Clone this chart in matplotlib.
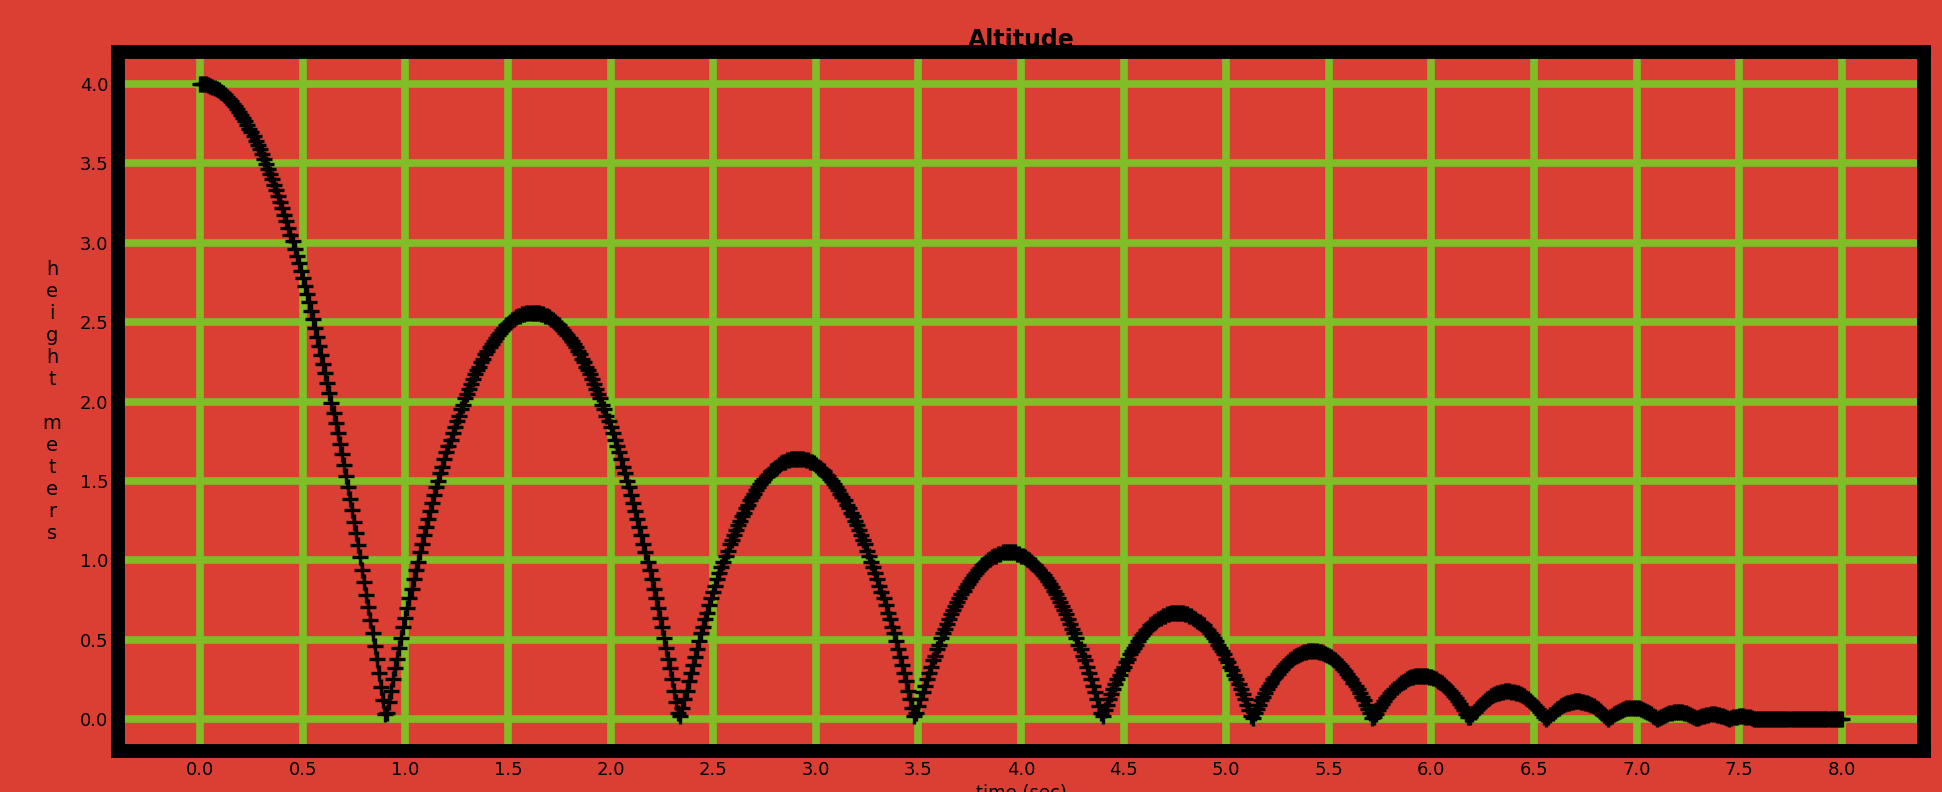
import numpy as np
import matplotlib
matplotlib.use("Agg")
import matplotlib.pyplot as plt
from matplotlib.ticker import MultipleLocator

SAMPLE_STEP = 0.01  # seconds between recorded samples

# Ball height in metres, one list per flight (between two impacts)
drop = [
    4.000, 4.000, 3.998, 3.996, 3.992, 3.988, 3.982, 3.976, 3.969, 3.960,
    3.951, 3.941, 3.929, 3.917, 3.904, 3.890, 3.875, 3.858, 3.841, 3.823,
    3.804, 3.784, 3.763, 3.741, 3.718, 3.694, 3.669, 3.643, 3.616, 3.588,
    3.559, 3.529, 3.498, 3.466, 3.434, 3.400, 3.365, 3.329, 3.292, 3.255,
    3.216, 3.176, 3.136, 3.094, 3.051, 3.008, 2.963, 2.918, 2.871, 2.824,
    2.775, 2.726, 2.675, 2.624, 2.571, 2.518, 2.463, 2.408, 2.352, 2.294,
    2.236, 2.177, 2.116, 2.055, 1.993, 1.930, 1.866, 1.800, 1.734, 1.667,
    1.599, 1.530, 1.460, 1.389, 1.317, 1.244, 1.170, 1.095, 1.019, 0.942,
    0.864, 0.785, 0.705, 0.624, 0.543, 0.460, 0.376, 0.291, 0.205, 0.119,
    0.031,
]
bounce_1 = [
    0.04, 0.11, 0.18, 0.25, 0.32, 0.38, 0.45, 0.51, 0.58, 0.64,
    0.70, 0.76, 0.82, 0.88, 0.94, 0.99, 1.05, 1.10, 1.16, 1.21,
    1.26, 1.31, 1.36, 1.41, 1.46, 1.50, 1.55, 1.59, 1.64, 1.68,
    1.72, 1.76, 1.80, 1.84, 1.88, 1.91, 1.95, 1.98, 2.02, 2.05,
    2.08, 2.11, 2.14, 2.17, 2.20, 2.22, 2.25, 2.27, 2.30, 2.32,
    2.34, 2.36, 2.38, 2.40, 2.42, 2.43, 2.45, 2.46, 2.48, 2.49,
    2.50, 2.51, 2.52, 2.53, 2.54, 2.54, 2.55, 2.55, 2.56, 2.56,
    2.56, 2.56,
    2.56, 2.56, 2.56, 2.55, 2.55, 2.54, 2.54, 2.53, 2.52, 2.51, 2.50,
    2.49, 2.48, 2.46, 2.45, 2.43, 2.42, 2.40, 2.38, 2.36, 2.34,
    2.32, 2.30, 2.27, 2.25, 2.22, 2.20, 2.17, 2.14, 2.11, 2.08,
    2.05, 2.02, 1.98, 1.95, 1.91, 1.88, 1.84, 1.80, 1.76, 1.72,
    1.68, 1.64, 1.59, 1.55, 1.50, 1.46, 1.41, 1.36, 1.31, 1.26,
    1.21, 1.16, 1.10, 1.05, 0.99, 0.94, 0.88, 0.82, 0.76, 0.70,
    0.64, 0.58, 0.51, 0.45, 0.38, 0.32, 0.25, 0.18, 0.11, 0.04,
]
bounce_2 = [
    0.02, 0.07, 0.13, 0.18, 0.24, 0.29, 0.34,
    0.39, 0.44, 0.49, 0.54, 0.58, 0.63, 0.67, 0.72, 0.76, 0.80,
    0.84, 0.88, 0.92, 0.96, 0.99, 1.03, 1.06, 1.10, 1.13, 1.16,
    1.19, 1.22, 1.25, 1.28, 1.30, 1.33, 1.35, 1.38, 1.40, 1.42,
    1.44, 1.46, 1.48, 1.50, 1.51, 1.53, 1.54, 1.56, 1.57, 1.58,
    1.59, 1.60, 1.61, 1.62, 1.62, 1.63, 1.63, 1.64, 1.64, 1.64,
    1.64,
    1.64, 1.64, 1.64, 1.63, 1.63, 1.62, 1.62, 1.61, 1.60, 1.59,
    1.58, 1.57, 1.56, 1.54, 1.53, 1.51, 1.50, 1.48, 1.46, 1.44,
    1.42, 1.40, 1.38, 1.35, 1.33, 1.30, 1.28, 1.25, 1.22, 1.19,
    1.16, 1.13, 1.10, 1.06, 1.03, 0.99, 0.96, 0.92, 0.88, 0.84,
    0.80, 0.76, 0.72, 0.67, 0.63, 0.58, 0.54, 0.49, 0.44, 0.39,
    0.34, 0.29, 0.24, 0.18, 0.13, 0.07, 0.02,
]
bounce_3 = [
    0.04, 0.08, 0.13, 0.17, 0.21,
    0.25, 0.29, 0.33, 0.37, 0.40, 0.44, 0.47, 0.51, 0.54, 0.57,
    0.60, 0.63, 0.66, 0.69, 0.71, 0.74, 0.76, 0.79, 0.81, 0.83,
    0.85, 0.87, 0.89, 0.91, 0.92, 0.94, 0.95, 0.97, 0.98, 0.99,
    1.00, 1.01, 1.02, 1.03, 1.03, 1.04, 1.04, 1.05, 1.05, 1.05,
    1.05,
    1.05, 1.05, 1.05, 1.04, 1.04, 1.03, 1.03, 1.02, 1.01, 1.00,
    0.99, 0.98, 0.97, 0.95, 0.94, 0.92, 0.91, 0.89, 0.87, 0.85,
    0.83, 0.81, 0.79, 0.76, 0.74, 0.71, 0.69, 0.66, 0.63, 0.60,
    0.57, 0.54, 0.51, 0.47, 0.44, 0.40, 0.37, 0.33, 0.29, 0.25,
    0.21, 0.17, 0.13, 0.08, 0.04,
]
bounce_4 = [
    0.02, 0.06, 0.09, 0.13, 0.16, 0.19,
    0.22, 0.25, 0.28, 0.31, 0.33, 0.36, 0.38, 0.41, 0.43, 0.45,
    0.47, 0.49, 0.51, 0.53, 0.54, 0.56, 0.57, 0.59, 0.60, 0.61,
    0.62, 0.63, 0.64, 0.65, 0.65, 0.66, 0.66, 0.67, 0.67, 0.67,
    0.67,
    0.67, 0.67, 0.67, 0.66, 0.66, 0.65, 0.65, 0.64, 0.63, 0.62,
    0.61, 0.60, 0.59, 0.57, 0.56, 0.54, 0.53, 0.51, 0.49, 0.47,
    0.45, 0.43, 0.41, 0.38, 0.36, 0.33, 0.31, 0.28, 0.25, 0.22,
    0.19, 0.16, 0.13, 0.09, 0.06, 0.02,
]
bounce_5 = [
    0.010, 0.038, 0.066, 0.092, 0.118, 0.142, 0.166, 0.188, 0.210,
    0.230, 0.250, 0.268, 0.286, 0.302, 0.318, 0.332, 0.346, 0.358, 0.370,
    0.380, 0.390, 0.398, 0.406, 0.412, 0.418, 0.422, 0.426, 0.428, 0.430,
    0.430,
    0.430, 0.428, 0.426, 0.422, 0.418, 0.412, 0.406, 0.398, 0.390, 0.380,
    0.370, 0.358, 0.346, 0.332, 0.318, 0.302, 0.286, 0.268, 0.250, 0.230,
    0.210, 0.188, 0.166, 0.142, 0.118, 0.092, 0.066, 0.038, 0.010,
]
bounce_6 = [
    0.011, 0.033, 0.055,
    0.075, 0.095, 0.113, 0.131, 0.147, 0.163, 0.177, 0.191, 0.203, 0.215,
    0.225, 0.235, 0.243, 0.251, 0.257, 0.263, 0.267, 0.271, 0.273, 0.275,
    0.275,
    0.275, 0.273, 0.271, 0.267, 0.263, 0.257, 0.251, 0.243, 0.235, 0.225,
    0.215, 0.203, 0.191, 0.177, 0.163, 0.147, 0.131, 0.113, 0.095, 0.075,
    0.055, 0.033, 0.011,
]
bounce_7 = [
    0.014, 0.032, 0.048, 0.064, 0.078, 0.092, 0.104, 0.116,
    0.126, 0.136, 0.144, 0.152, 0.158, 0.164, 0.168, 0.172, 0.174, 0.176,
    0.176,
    0.176, 0.174, 0.172, 0.168, 0.164, 0.158, 0.152, 0.144, 0.136, 0.126,
    0.116, 0.104, 0.092, 0.078, 0.064, 0.048, 0.032, 0.014,
]
bounce_8 = [
    0.001, 0.015, 0.029, 0.041, 0.053,
    0.063, 0.073, 0.081, 0.089, 0.095, 0.101, 0.105, 0.109, 0.111, 0.113,
    0.113,
    0.113, 0.111, 0.109, 0.105, 0.101, 0.095, 0.089, 0.081, 0.073, 0.063,
    0.053, 0.041, 0.029, 0.015, 0.001,
]
bounce_9 = [
    0.012, 0.022, 0.032, 0.040, 0.048, 0.054, 0.060, 0.064, 0.068, 0.070,
    0.072, 0.072,
    0.072, 0.070, 0.068, 0.064, 0.060, 0.054, 0.048, 0.040, 0.032, 0.022,
    0.012, 0.000,
]
bounce_10 = [
    0.006, 0.014, 0.022, 0.028, 0.034, 0.038, 0.042, 0.044, 0.046,
    0.046,
    0.046, 0.044, 0.042, 0.038, 0.034, 0.028, 0.022, 0.014, 0.006,
]
bounce_11 = [
    0.006, 0.012, 0.018, 0.022, 0.026, 0.028, 0.030,
    0.030,
    0.030, 0.028, 0.026, 0.022, 0.018, 0.012, 0.006,
]
bounce_12 = [
    0.001, 0.007, 0.011, 0.015, 0.017, 0.019,
    0.019,
    0.019, 0.017, 0.015, 0.011, 0.007, 0.001,
]
resting = [
    0.0, 0.0, 0.0, 0.0, 0.0, 0.0, 0.0, 0.0, 0.0, 0.0,
    0.0, 0.0, 0.0, 0.0, 0.0, 0.0, 0.0, 0.0, 0.0, 0.0,
    0.0, 0.0, 0.0, 0.0, 0.0, 0.0, 0.0, 0.0, 0.0, 0.0,
    0.0, 0.0, 0.0, 0.0, 0.0, 0.0, 0.0, 0.0, 0.0, 0.0,
    0.0, 0.0, 0.0,
]

flights = [drop, bounce_1, bounce_2, bounce_3, bounce_4, bounce_5, bounce_6,
           bounce_7, bounce_8, bounce_9, bounce_10, bounce_11, bounce_12, resting]
height = np.concatenate(flights)
time = np.arange(len(height)) * SAMPLE_STEP

BG = "#db3f34"
GRID = "#80bd27"

fig, ax = plt.subplots(figsize=(19.42, 7.92), dpi=100)
fig.patch.set_facecolor(BG)
ax.set_facecolor(BG)
fig.subplots_adjust(left=0.0608, right=0.9907, bottom=0.0518, top=0.9343)

ax.plot(time, height, color="black", lw=1.8, marker="+", ms=11, mew=2.4)

ax.xaxis.set_major_locator(MultipleLocator(0.5))
ax.yaxis.set_major_locator(MultipleLocator(0.5))
ax.grid(True, color=GRID, lw=5.5)
for spine in ax.spines.values():
    spine.set_linewidth(10)
    spine.set_color("black")
    spine.set_zorder(4)
ax.tick_params(labelsize=13, colors="black")

ax.set_title("Altitude", fontsize=17, fontweight="bold", pad=0)
ax.set_xlabel("time (sec)", fontsize=13)
ax.set_ylabel("\n".join("height meters"), rotation=0, fontsize=14,
              linespacing=1.2, ha="center", va="center")
ax.yaxis.set_label_coords(-0.0365, 0.5)

fig.savefig("out.png", dpi=100, facecolor=BG)
